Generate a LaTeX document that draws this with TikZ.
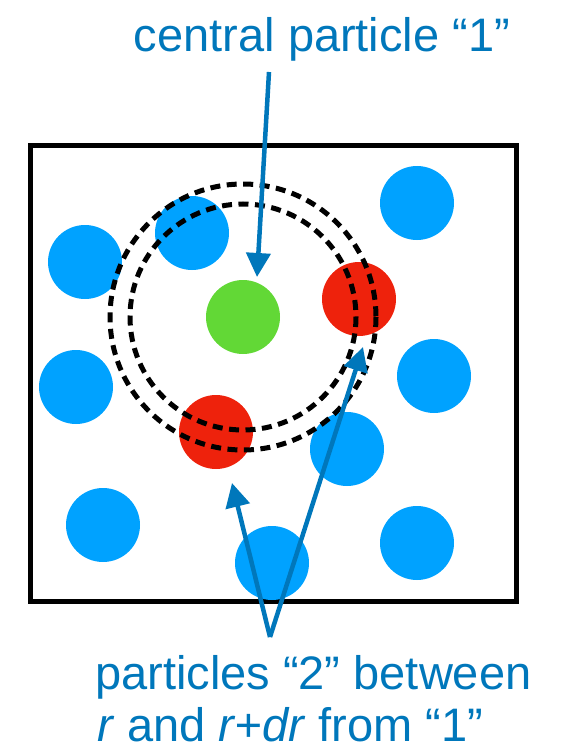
\documentclass[tikz,border=0pt]{standalone}
\usepackage{fontspec}
\setmainfont{Liberation Sans}
\usetikzlibrary{arrows.meta}
\definecolor{txtblue}{HTML}{0077BB}
\definecolor{partblue}{HTML}{00A2FF}
\definecolor{partgreen}{HTML}{62D836}
\definecolor{partred}{HTML}{EE220C}
\begin{document}
\begin{tikzpicture}[x=1pt,y=-1pt,
  particle/.style={circle,inner sep=0pt,minimum size=74pt},
  bluep/.style={particle,fill=partblue},
  redp/.style={particle,fill=partred},
  greenp/.style={particle,fill=partgreen},
  shell/.style={draw=black,line width=5pt,dash pattern=on 10pt off 6.5pt},
  pointer/.style={draw=txtblue,line width=4.5pt,-{Triangle[length=24pt,width=24pt]}},
  label/.style={text=txtblue,font=\fontsize{47}{55}\selectfont,inner sep=0pt}]
\useasboundingbox (0,0) rectangle (567,746);
\node[draw=black,line width=5pt,minimum width=486pt,minimum height=455pt,inner sep=0pt] (box) at (273,373.5) {};
% blue particles
\node[bluep] (b1) at (85,262) {};
\node[bluep] (b2) at (192,233) {};
\node[bluep] (b3) at (417,203) {};
\node[bluep] (b4) at (76,387) {};
\node[bluep] (b5) at (434,376) {};
\node[bluep] (b6) at (347,449) {};
\node[bluep] (b7) at (103,525) {};
\node[bluep] (b8) at (272,563) {};
\node[bluep] (b9) at (417,543) {};
% red and green particles
\node[redp] (r1) at (359,299) {};
\node[redp] (r2) at (216,432) {};
\node[greenp] (g) at (243,317) {};
% shells
\draw[shell] (g.center) circle[radius=133];
\draw[shell] (g.center) circle[radius=113];
% labels
\node[label,anchor=base] (top) at (322,52) {central particle “1”};
\node[label,anchor=base west] (bot1) at (95,689) {particles “2” between};
\node[label,anchor=base west] (bot2) at (97,741) {\textit{r} and \textit{r+dr} from “1”};
% pointers
\coordinate (ts) at (269,72);
\coordinate (t1) at (257,277);
\coordinate (apex) at (270,637);
\coordinate (t2) at (232,483);
\coordinate (t3) at (363,347);
\draw[pointer] (ts) -- (t1);
\draw[pointer] (apex) -- (t2);
\draw[pointer] (apex) -- (t3);
\end{tikzpicture}
\end{document}
